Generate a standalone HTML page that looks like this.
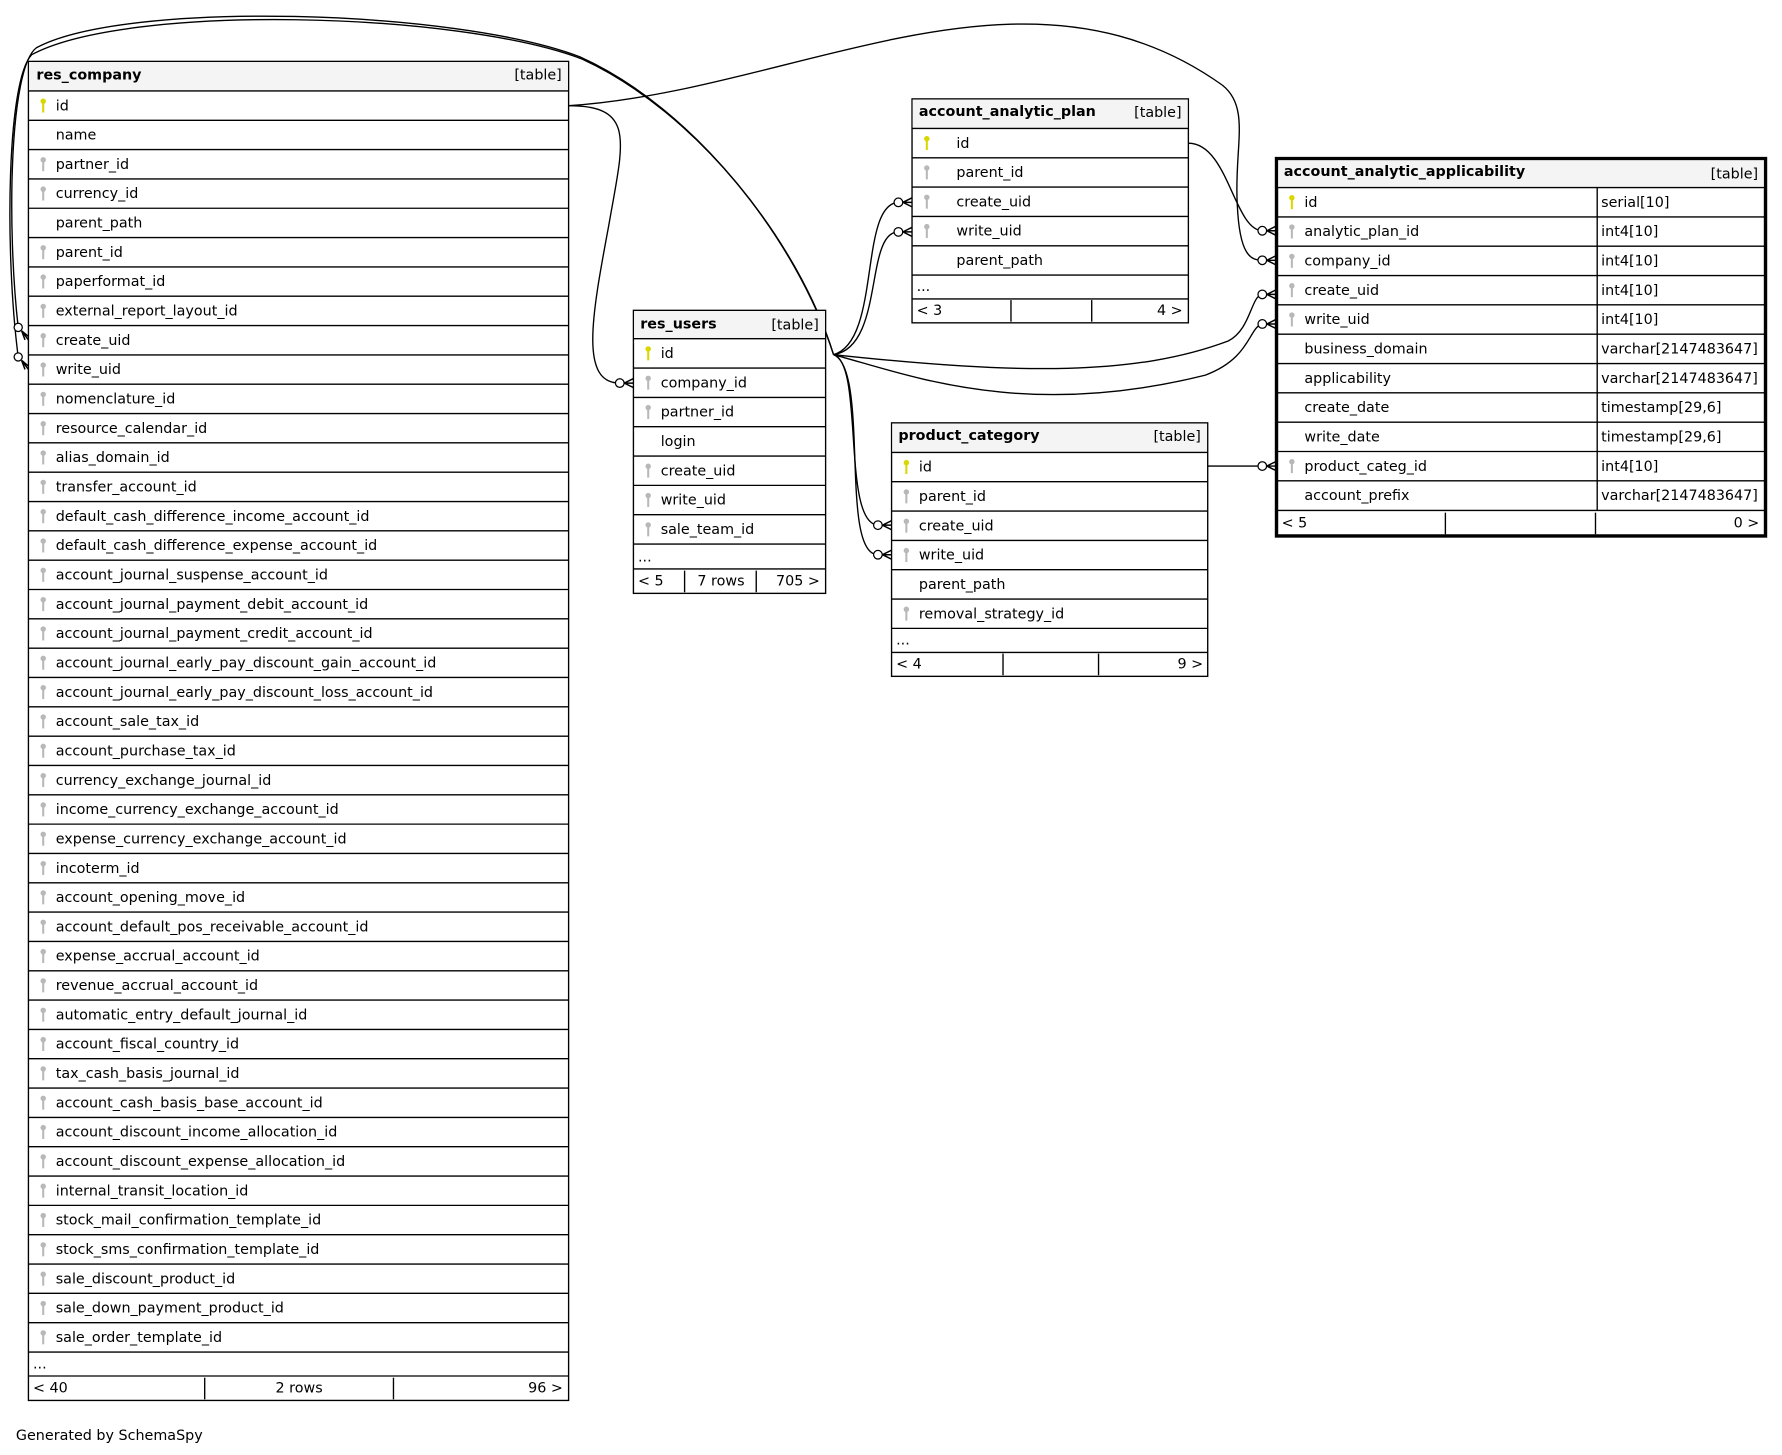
<!DOCTYPE html>
<html><head><meta charset="utf-8"><style>
html,body{margin:0;padding:0;background:#fff;}
svg{display:block;}
text{font-family:"DejaVu Sans","Liberation Sans",sans-serif;font-size:12.6px;fill:#000;}
.b{font-weight:bold;}
.hd{fill:#f4f4f4;}
.ln{stroke:#000;stroke-width:1.2;}
.e{fill:none;stroke:#000;stroke-width:1.2;}
</style></head><body>
<svg width="1782" height="1455" viewBox="0 0 1567 1280" preserveAspectRatio="none" xmlns="http://www.w3.org/2000/svg">
<defs>
<g id="pk"><circle cx="0" cy="-3" r="2.4" fill="#d8d800"/><rect x="-0.9" y="-1" width="1.8" height="8" fill="#d8d800"/></g>
<g id="fk"><circle cx="0" cy="-3" r="2.4" fill="#b8b8b8"/><rect x="-0.9" y="-1" width="1.8" height="8" fill="#b8b8b8"/></g>
<g id="cf"><circle cx="-12" cy="0" r="3.8" fill="#fff" stroke="#000" stroke-width="1.1"/><path d="M-8,0 L0,-4 M-8,0 L0,0 M-8,0 L0,4" stroke="#000" stroke-width="1.3" fill="none"/></g>
</defs>

<!-- edges -->
<path class="e" d="M733,312 C700,210 610,95 510,50 C400,8 110,0 32,42 C8,60 6,200 16,288"/>
<path class="e" d="M733,312 C702,212 612,98 512,52 C402,10 112,3 28,48 C6,70 4,220 16,314"/>
<circle cx="16" cy="288" r="3.6" fill="#fff" stroke="#000" stroke-width="1.1"/>
<circle cx="16" cy="314" r="3.6" fill="#fff" stroke="#000" stroke-width="1.1"/>
<path d="M19,291 L25,299 M19,291 L22,299 M19,291 L25,296 M19,317 L25,325 M19,317 L22,325 M19,317 L25,322" stroke="#000" stroke-width="1.3"/>
<path class="e" d="M500,93 C560,93 548,125 535,200 C520,280 510,337 545,337"/>
<use href="#cf" x="557" y="337"/>
<path class="e" d="M500,93 C700,80 900,-50 1075,75 C1100,95 1085,130 1088,180 C1090,225 1100,229 1110,229"/>
<use href="#cf" x="1122" y="229"/>
<path class="e" d="M1045,126 C1080,126 1085,202 1110,203"/>
<use href="#cf" x="1122" y="203"/>
<path class="e" d="M733,312 C775,300 755,180 790,178"/>
<path class="e" d="M733,312 C778,305 760,204 790,204"/>
<use href="#cf" x="802" y="178"/>
<use href="#cf" x="802" y="204"/>
<path class="e" d="M733,312 C760,320 740,460 772,462"/>
<path class="e" d="M733,312 C765,325 738,488 772,488"/>
<use href="#cf" x="784" y="462"/>
<use href="#cf" x="784" y="488"/>
<path class="e" d="M733,312 C900,330 1000,330 1080,300 C1100,290 1100,260 1110,259"/>
<path class="e" d="M733,312 C800,330 900,370 1060,330 C1100,315 1098,288 1110,285"/>
<use href="#cf" x="1122" y="259"/>
<use href="#cf" x="1122" y="285"/>
<path class="e" d="M1062,410 L1110,410"/>
<use href="#cf" x="1122" y="410"/>

<!-- res_company -->
<g>
<rect x="25" y="54" width="475" height="1178" fill="#fff" stroke="#000" stroke-width="1.2"/>
<rect class="hd" x="25.6" y="54.6" width="473.8" height="25.4"/>
<text class="b" x="32" y="70">res_company</text><text x="494" y="70" text-anchor="end">[table]</text>
<g class="ln">
<line x1="25" x2="500" y1="80" y2="80"/><line x1="25" x2="500" y1="105.8" y2="105.8"/><line x1="25" x2="500" y1="131.6" y2="131.6"/><line x1="25" x2="500" y1="157.4" y2="157.4"/><line x1="25" x2="500" y1="183.2" y2="183.2"/><line x1="25" x2="500" y1="209" y2="209"/><line x1="25" x2="500" y1="234.8" y2="234.8"/><line x1="25" x2="500" y1="260.6" y2="260.6"/><line x1="25" x2="500" y1="286.4" y2="286.4"/><line x1="25" x2="500" y1="312.2" y2="312.2"/><line x1="25" x2="500" y1="338" y2="338"/><line x1="25" x2="500" y1="363.8" y2="363.8"/><line x1="25" x2="500" y1="389.6" y2="389.6"/><line x1="25" x2="500" y1="415.4" y2="415.4"/><line x1="25" x2="500" y1="441.2" y2="441.2"/><line x1="25" x2="500" y1="467" y2="467"/><line x1="25" x2="500" y1="492.8" y2="492.8"/><line x1="25" x2="500" y1="518.6" y2="518.6"/><line x1="25" x2="500" y1="544.4" y2="544.4"/><line x1="25" x2="500" y1="570.2" y2="570.2"/><line x1="25" x2="500" y1="596" y2="596"/><line x1="25" x2="500" y1="621.8" y2="621.8"/><line x1="25" x2="500" y1="647.6" y2="647.6"/><line x1="25" x2="500" y1="673.4" y2="673.4"/><line x1="25" x2="500" y1="699.2" y2="699.2"/><line x1="25" x2="500" y1="725" y2="725"/><line x1="25" x2="500" y1="750.8" y2="750.8"/><line x1="25" x2="500" y1="776.6" y2="776.6"/><line x1="25" x2="500" y1="802.4" y2="802.4"/><line x1="25" x2="500" y1="828.2" y2="828.2"/><line x1="25" x2="500" y1="854" y2="854"/><line x1="25" x2="500" y1="879.8" y2="879.8"/><line x1="25" x2="500" y1="905.6" y2="905.6"/><line x1="25" x2="500" y1="931.4" y2="931.4"/><line x1="25" x2="500" y1="957.2" y2="957.2"/><line x1="25" x2="500" y1="983" y2="983"/><line x1="25" x2="500" y1="1008.8" y2="1008.8"/><line x1="25" x2="500" y1="1034.6" y2="1034.6"/><line x1="25" x2="500" y1="1060.4" y2="1060.4"/><line x1="25" x2="500" y1="1086.2" y2="1086.2"/><line x1="25" x2="500" y1="1112" y2="1112"/><line x1="25" x2="500" y1="1137.8" y2="1137.8"/><line x1="25" x2="500" y1="1163.6" y2="1163.6"/><line x1="25" x2="500" y1="1189.4" y2="1189.4"/><line x1="25" x2="500" y1="1210.5" y2="1210.5"/>
<line x1="180" x2="180" y1="1212" y2="1231"/><line x1="346" x2="346" y1="1212" y2="1231"/>
</g>
<use href="#pk" x="38" y="92"/><text x="49" y="97">id</text>
<text x="49" y="122.8">name</text>
<use href="#fk" x="38" y="143.6"/><text x="49" y="148.6">partner_id</text>
<use href="#fk" x="38" y="169.4"/><text x="49" y="174.4">currency_id</text>
<text x="49" y="200.2">parent_path</text>
<use href="#fk" x="38" y="221"/><text x="49" y="226">parent_id</text>
<use href="#fk" x="38" y="246.8"/><text x="49" y="251.8">paperformat_id</text>
<use href="#fk" x="38" y="272.6"/><text x="49" y="277.6">external_report_layout_id</text>
<use href="#fk" x="38" y="298.4"/><text x="49" y="303.4">create_uid</text>
<use href="#fk" x="38" y="324.2"/><text x="49" y="329.2">write_uid</text>
<use href="#fk" x="38" y="350"/><text x="49" y="355">nomenclature_id</text>
<use href="#fk" x="38" y="375.8"/><text x="49" y="380.8">resource_calendar_id</text>
<use href="#fk" x="38" y="401.6"/><text x="49" y="406.6">alias_domain_id</text>
<use href="#fk" x="38" y="427.4"/><text x="49" y="432.4">transfer_account_id</text>
<use href="#fk" x="38" y="453.2"/><text x="49" y="458.2">default_cash_difference_income_account_id</text>
<use href="#fk" x="38" y="479"/><text x="49" y="484">default_cash_difference_expense_account_id</text>
<use href="#fk" x="38" y="504.8"/><text x="49" y="509.8">account_journal_suspense_account_id</text>
<use href="#fk" x="38" y="530.6"/><text x="49" y="535.6">account_journal_payment_debit_account_id</text>
<use href="#fk" x="38" y="556.4"/><text x="49" y="561.4">account_journal_payment_credit_account_id</text>
<use href="#fk" x="38" y="582.2"/><text x="49" y="587.2">account_journal_early_pay_discount_gain_account_id</text>
<use href="#fk" x="38" y="608"/><text x="49" y="613">account_journal_early_pay_discount_loss_account_id</text>
<use href="#fk" x="38" y="633.8"/><text x="49" y="638.8">account_sale_tax_id</text>
<use href="#fk" x="38" y="659.6"/><text x="49" y="664.6">account_purchase_tax_id</text>
<use href="#fk" x="38" y="685.4"/><text x="49" y="690.4">currency_exchange_journal_id</text>
<use href="#fk" x="38" y="711.2"/><text x="49" y="716.2">income_currency_exchange_account_id</text>
<use href="#fk" x="38" y="737"/><text x="49" y="742">expense_currency_exchange_account_id</text>
<use href="#fk" x="38" y="762.8"/><text x="49" y="767.8">incoterm_id</text>
<use href="#fk" x="38" y="788.6"/><text x="49" y="793.6">account_opening_move_id</text>
<use href="#fk" x="38" y="814.4"/><text x="49" y="819.4">account_default_pos_receivable_account_id</text>
<use href="#fk" x="38" y="840.2"/><text x="49" y="845.2">expense_accrual_account_id</text>
<use href="#fk" x="38" y="866"/><text x="49" y="871">revenue_accrual_account_id</text>
<use href="#fk" x="38" y="891.8"/><text x="49" y="896.8">automatic_entry_default_journal_id</text>
<use href="#fk" x="38" y="917.6"/><text x="49" y="922.6">account_fiscal_country_id</text>
<use href="#fk" x="38" y="943.4"/><text x="49" y="948.4">tax_cash_basis_journal_id</text>
<use href="#fk" x="38" y="969.2"/><text x="49" y="974.2">account_cash_basis_base_account_id</text>
<use href="#fk" x="38" y="995"/><text x="49" y="1000">account_discount_income_allocation_id</text>
<use href="#fk" x="38" y="1020.8"/><text x="49" y="1025.8">account_discount_expense_allocation_id</text>
<use href="#fk" x="38" y="1046.6"/><text x="49" y="1051.6">internal_transit_location_id</text>
<use href="#fk" x="38" y="1072.4"/><text x="49" y="1077.4">stock_mail_confirmation_template_id</text>
<use href="#fk" x="38" y="1098.2"/><text x="49" y="1103.2">stock_sms_confirmation_template_id</text>
<use href="#fk" x="38" y="1124"/><text x="49" y="1129">sale_discount_product_id</text>
<use href="#fk" x="38" y="1149.8"/><text x="49" y="1154.8">sale_down_payment_product_id</text>
<use href="#fk" x="38" y="1175.6"/><text x="49" y="1180.6">sale_order_template_id</text>
<text x="29" y="1204">...</text>
<text x="29" y="1225">&lt; 40</text><text x="263" y="1225" text-anchor="middle">2 rows</text><text x="495" y="1225" text-anchor="end">96 &gt;</text>
</g>

<!-- res_users -->
<g>
<rect x="557" y="273" width="169" height="249" fill="#fff" stroke="#000" stroke-width="1.2"/>
<rect class="hd" x="557.6" y="273.6" width="167.8" height="24.4"/>
<text class="b" x="563" y="289">res_users</text><text x="720" y="290" text-anchor="end">[table]</text>
<g class="ln">
<line x1="557" x2="726" y1="298" y2="298"/><line x1="557" x2="726" y1="323.8" y2="323.8"/><line x1="557" x2="726" y1="349.6" y2="349.6"/><line x1="557" x2="726" y1="375.4" y2="375.4"/><line x1="557" x2="726" y1="401.2" y2="401.2"/><line x1="557" x2="726" y1="427" y2="427"/><line x1="557" x2="726" y1="452.8" y2="452.8"/><line x1="557" x2="726" y1="478.6" y2="478.6"/><line x1="557" x2="726" y1="500.5" y2="500.5"/>
<line x1="602" x2="602" y1="502" y2="521"/><line x1="665" x2="665" y1="502" y2="521"/>
</g>
<use href="#pk" x="570" y="310"/><text x="581" y="315">id</text>
<use href="#fk" x="570" y="335.8"/><text x="581" y="340.8">company_id</text>
<use href="#fk" x="570" y="361.6"/><text x="581" y="366.6">partner_id</text>
<text x="581" y="392.4">login</text>
<use href="#fk" x="570" y="413.2"/><text x="581" y="418.2">create_uid</text>
<use href="#fk" x="570" y="439"/><text x="581" y="444">write_uid</text>
<use href="#fk" x="570" y="464.8"/><text x="581" y="469.8">sale_team_id</text>
<text x="561" y="494">...</text>
<text x="561" y="515">&lt; 5</text><text x="634" y="515" text-anchor="middle">7 rows</text><text x="721" y="515" text-anchor="end">705 &gt;</text>
</g>

<!-- account_analytic_plan -->
<g>
<rect x="802" y="87" width="243" height="197" fill="#fff" stroke="#000" stroke-width="1.2"/>
<rect class="hd" x="802.6" y="87.6" width="241.8" height="25.4"/>
<text class="b" x="808" y="102">account_analytic_plan</text><text x="1039" y="103" text-anchor="end">[table]</text>
<g class="ln">
<line x1="802" x2="1045" y1="113" y2="113"/><line x1="802" x2="1045" y1="138.8" y2="138.8"/><line x1="802" x2="1045" y1="164.6" y2="164.6"/><line x1="802" x2="1045" y1="190.4" y2="190.4"/><line x1="802" x2="1045" y1="216.2" y2="216.2"/><line x1="802" x2="1045" y1="242" y2="242"/><line x1="802" x2="1045" y1="263" y2="263"/>
<line x1="889" x2="889" y1="264" y2="283"/><line x1="960" x2="960" y1="264" y2="283"/>
</g>
<use href="#pk" x="815" y="125"/><text x="841" y="130">id</text>
<use href="#fk" x="815" y="150.8"/><text x="841" y="155.8">parent_id</text>
<use href="#fk" x="815" y="176.6"/><text x="841" y="181.6">create_uid</text>
<use href="#fk" x="815" y="202.4"/><text x="841" y="207.4">write_uid</text>
<text x="841" y="233.2">parent_path</text>
<text x="806" y="256">...</text>
<text x="806" y="277">&lt; 3</text><text x="1040" y="277" text-anchor="end">4 &gt;</text>
</g>

<!-- product_category -->
<g>
<rect x="784" y="372" width="278" height="223" fill="#fff" stroke="#000" stroke-width="1.2"/>
<rect class="hd" x="784.6" y="372.6" width="276.8" height="25.4"/>
<text class="b" x="790" y="387">product_category</text><text x="1056" y="388" text-anchor="end">[table]</text>
<g class="ln">
<line x1="784" x2="1062" y1="398" y2="398"/><line x1="784" x2="1062" y1="423.8" y2="423.8"/><line x1="784" x2="1062" y1="449.6" y2="449.6"/><line x1="784" x2="1062" y1="475.4" y2="475.4"/><line x1="784" x2="1062" y1="501.2" y2="501.2"/><line x1="784" x2="1062" y1="527" y2="527"/><line x1="784" x2="1062" y1="552.8" y2="552.8"/><line x1="784" x2="1062" y1="574" y2="574"/>
<line x1="882" x2="882" y1="575" y2="594"/><line x1="966" x2="966" y1="575" y2="594"/>
</g>
<use href="#pk" x="797" y="410"/><text x="808" y="415">id</text>
<use href="#fk" x="797" y="435.8"/><text x="808" y="440.8">parent_id</text>
<use href="#fk" x="797" y="461.6"/><text x="808" y="466.6">create_uid</text>
<use href="#fk" x="797" y="487.4"/><text x="808" y="492.4">write_uid</text>
<text x="808" y="518.2">parent_path</text>
<use href="#fk" x="797" y="539"/><text x="808" y="544">removal_strategy_id</text>
<text x="788" y="567">...</text>
<text x="788" y="588">&lt; 4</text><text x="1058" y="588" text-anchor="end">9 &gt;</text>
</g>

<!-- account_analytic_applicability -->
<g>
<rect x="1122.5" y="139.5" width="430" height="332" fill="#fff" stroke="#000" stroke-width="3"/>
<rect class="hd" x="1124" y="141" width="427" height="24"/>
<text class="b" x="1129" y="155">account_analytic_applicability</text><text x="1546" y="157" text-anchor="end">[table]</text>
<g class="ln">
<line x1="1122" x2="1552" y1="165" y2="165"/><line x1="1122" x2="1552" y1="190.8" y2="190.8"/><line x1="1122" x2="1552" y1="216.6" y2="216.6"/><line x1="1122" x2="1552" y1="242.4" y2="242.4"/><line x1="1122" x2="1552" y1="268.2" y2="268.2"/><line x1="1122" x2="1552" y1="294" y2="294"/><line x1="1122" x2="1552" y1="319.8" y2="319.8"/><line x1="1122" x2="1552" y1="345.6" y2="345.6"/><line x1="1122" x2="1552" y1="371.4" y2="371.4"/><line x1="1122" x2="1552" y1="397.2" y2="397.2"/><line x1="1122" x2="1552" y1="423" y2="423"/><line x1="1122" x2="1552" y1="449" y2="449"/>
<line x1="1404.5" x2="1404.5" y1="165" y2="449"/>
<line x1="1271" x2="1271" y1="451" y2="470"/><line x1="1403" x2="1403" y1="451" y2="470"/>
</g>
<use href="#pk" x="1136" y="177"/><text x="1147" y="182">id</text><text x="1408" y="182">serial[10]</text>
<use href="#fk" x="1136" y="202.8"/><text x="1147" y="207.8">analytic_plan_id</text><text x="1408" y="207.8">int4[10]</text>
<use href="#fk" x="1136" y="228.6"/><text x="1147" y="233.6">company_id</text><text x="1408" y="233.6">int4[10]</text>
<use href="#fk" x="1136" y="254.4"/><text x="1147" y="259.4">create_uid</text><text x="1408" y="259.4">int4[10]</text>
<use href="#fk" x="1136" y="280.2"/><text x="1147" y="285.2">write_uid</text><text x="1408" y="285.2">int4[10]</text>
<text x="1147" y="311">business_domain</text><text x="1408" y="311">varchar[2147483647]</text>
<text x="1147" y="336.8">applicability</text><text x="1408" y="336.8">varchar[2147483647]</text>
<text x="1147" y="362.6">create_date</text><text x="1408" y="362.6">timestamp[29,6]</text>
<text x="1147" y="388.4">write_date</text><text x="1408" y="388.4">timestamp[29,6]</text>
<use href="#fk" x="1136" y="409.2"/><text x="1147" y="414.2">product_categ_id</text><text x="1408" y="414.2">int4[10]</text>
<text x="1147" y="440">account_prefix</text><text x="1408" y="440">varchar[2147483647]</text>
<text x="1127" y="464">&lt; 5</text><text x="1547" y="464" text-anchor="end">0 &gt;</text>
</g>

<text x="14" y="1267">Generated by SchemaSpy</text>
</svg>
</body></html>
